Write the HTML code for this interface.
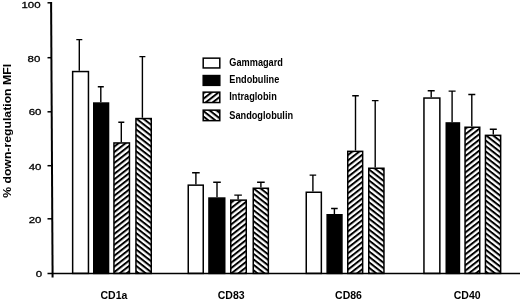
<!DOCTYPE html>
<html><head><meta charset="utf-8"><title>chart</title>
<style>
html,body{margin:0;padding:0;background:#fff;}
body{width:520px;height:299px;overflow:hidden;}
svg{display:block;will-change:transform;}
text{font-family:"Liberation Sans",Arial,Helvetica,sans-serif;font-weight:bold;fill:#000;}
</style></head><body>
<svg width="520" height="299" viewBox="0 0 520 299">
<defs>
<pattern id="hf" patternUnits="userSpaceOnUse" width="4.3" height="4.3" patternTransform="rotate(-38)"><rect x="0" y="0" width="4.3" height="4.3" fill="#fff"/><rect x="0" y="0" width="4.3" height="2.0" fill="#000"/></pattern>
<pattern id="hb" patternUnits="userSpaceOnUse" width="4.3" height="4.3" patternTransform="rotate(38)"><rect x="0" y="0" width="4.3" height="4.3" fill="#fff"/><rect x="0" y="0" width="4.3" height="2.0" fill="#000"/></pattern>
</defs>
<rect width="520" height="299" fill="#fff"/>

<path d="M79.3 70.8V39.3M76.3 39.6H82.3" stroke="#000" stroke-width="1.4" fill="none"/>
<rect x="72.65" y="71.55" width="15.80" height="201.85" fill="#fff" stroke="#000" stroke-width="1.5"/>
<path d="M100.8 102.3V86.5M97.8 86.8H103.8" stroke="#000" stroke-width="1.4" fill="none"/>
<rect x="93.75" y="103.05" width="14.80" height="170.35" fill="#000" stroke="#000" stroke-width="1.5"/>
<path d="M121.3 142.2V122.0M118.3 122.3H124.3" stroke="#000" stroke-width="1.4" fill="none"/>
<rect x="113.95" y="142.95" width="15.50" height="130.45" fill="url(#hf)" stroke="#000" stroke-width="1.5"/>
<path d="M142.4 117.8V56.3M139.4 56.6H145.4" stroke="#000" stroke-width="1.4" fill="none"/>
<rect x="135.95" y="118.55" width="15.30" height="154.85" fill="url(#hb)" stroke="#000" stroke-width="1.5"/>
<path d="M195.9 184.4V172.5M192.1 172.8H199.7" stroke="#000" stroke-width="1.4" fill="none"/>
<rect x="188.25" y="185.15" width="15.00" height="88.25" fill="#fff" stroke="#000" stroke-width="1.5"/>
<path d="M217.0 197.3V182.0M213.2 182.3H220.8" stroke="#000" stroke-width="1.4" fill="none"/>
<rect x="208.95" y="198.05" width="15.80" height="75.35" fill="#000" stroke="#000" stroke-width="1.5"/>
<path d="M238.1 199.4V194.8M234.3 195.1H241.9" stroke="#000" stroke-width="1.4" fill="none"/>
<rect x="230.75" y="200.15" width="15.50" height="73.25" fill="url(#hf)" stroke="#000" stroke-width="1.5"/>
<path d="M260.9 187.5V182.0M257.1 182.3H264.7" stroke="#000" stroke-width="1.4" fill="none"/>
<rect x="253.25" y="188.25" width="15.10" height="85.15" fill="url(#hb)" stroke="#000" stroke-width="1.5"/>
<path d="M312.9 191.5V174.8M309.6 175.1H316.2" stroke="#000" stroke-width="1.4" fill="none"/>
<rect x="306.25" y="192.25" width="15.10" height="81.15" fill="#fff" stroke="#000" stroke-width="1.5"/>
<path d="M334.4 214.0V208.2M331.1 208.5H337.7" stroke="#000" stroke-width="1.4" fill="none"/>
<rect x="327.15" y="214.75" width="14.80" height="58.65" fill="#000" stroke="#000" stroke-width="1.5"/>
<path d="M355.5 150.6V95.5M352.2 95.8H358.8" stroke="#000" stroke-width="1.4" fill="none"/>
<rect x="347.75" y="151.35" width="14.90" height="122.05" fill="url(#hf)" stroke="#000" stroke-width="1.5"/>
<path d="M375.2 167.5V100.3M371.9 100.6H378.5" stroke="#000" stroke-width="1.4" fill="none"/>
<rect x="368.75" y="168.25" width="15.20" height="105.15" fill="url(#hb)" stroke="#000" stroke-width="1.5"/>
<path d="M431.2 97.3V90.5M427.7 90.8H434.7" stroke="#000" stroke-width="1.4" fill="none"/>
<rect x="423.95" y="98.05" width="15.90" height="175.35" fill="#fff" stroke="#000" stroke-width="1.5"/>
<path d="M452.1 122.2V90.8M448.6 91.1H455.6" stroke="#000" stroke-width="1.4" fill="none"/>
<rect x="446.25" y="122.95" width="13.20" height="150.45" fill="#000" stroke="#000" stroke-width="1.5"/>
<path d="M471.8 126.5V94.2M468.3 94.5H475.3" stroke="#000" stroke-width="1.4" fill="none"/>
<rect x="465.05" y="127.25" width="14.70" height="146.15" fill="url(#hf)" stroke="#000" stroke-width="1.5"/>
<path d="M493.3 134.6V128.9M489.8 129.2H496.8" stroke="#000" stroke-width="1.4" fill="none"/>
<rect x="485.45" y="135.35" width="15.20" height="138.05" fill="url(#hb)" stroke="#000" stroke-width="1.5"/>
<path d="M51.1 2.1L52.6 277.6" stroke="#000" stroke-width="2" fill="none"/>
<path d="M47.5 273.4H520" stroke="#000" stroke-width="1.5" fill="none"/>
<path d="M47.5 218.8H52" stroke="#000" stroke-width="1.5" fill="none"/>
<path d="M47.5 165.7H52" stroke="#000" stroke-width="1.5" fill="none"/>
<path d="M47.5 111.8H52" stroke="#000" stroke-width="1.5" fill="none"/>
<path d="M47.5 57.7H52" stroke="#000" stroke-width="1.5" fill="none"/>
<path d="M47.5 2.8H52" stroke="#000" stroke-width="1.5" fill="none"/>
<text transform="translate(42.1 277.3) scale(1.17 1)" font-size="9.8" text-anchor="end" style="font-weight:normal" stroke="#000" stroke-width="0.3">0</text>
<text transform="translate(41.5 223.3) scale(1.17 1)" font-size="9.8" text-anchor="end" style="font-weight:normal" stroke="#000" stroke-width="0.3">20</text>
<text transform="translate(41.5 170.3) scale(1.17 1)" font-size="9.8" text-anchor="end" style="font-weight:normal" stroke="#000" stroke-width="0.3">40</text>
<text transform="translate(41.5 114.8) scale(1.17 1)" font-size="9.8" text-anchor="end" style="font-weight:normal" stroke="#000" stroke-width="0.3">60</text>
<text transform="translate(40.3 61.7) scale(1.17 1)" font-size="9.8" text-anchor="end" style="font-weight:normal" stroke="#000" stroke-width="0.3">80</text>
<text transform="translate(40.6 7.7) scale(1.17 1)" font-size="9.8" text-anchor="end" style="font-weight:normal" stroke="#000" stroke-width="0.3">100</text>
<text transform="translate(11.2 130.9) rotate(-90) scale(1.225 1)" font-size="10" text-anchor="middle">% down-regulation MFI</text>
<text x="113.9" y="298.5" font-size="10.5" text-anchor="middle">CD1a</text>
<text x="231.2" y="298.5" font-size="10.5" text-anchor="middle">CD83</text>
<text x="348.5" y="298.5" font-size="10.5" text-anchor="middle">CD86</text>
<text x="467.2" y="298.5" font-size="10.5" text-anchor="middle">CD40</text>
<rect x="203.2" y="58.15" width="16.6" height="9.80" fill="#fff" stroke="#000" stroke-width="1.5"/>
<text transform="translate(229.3 66.3) scale(0.92 1)" font-size="10">Gammagard</text>
<rect x="203.2" y="75.55" width="16.6" height="9.80" fill="#000" stroke="#000" stroke-width="1.5"/>
<text transform="translate(229.3 83.4) scale(0.92 1)" font-size="10">Endobuline</text>
<rect x="203.2" y="92.15" width="16.6" height="10.40" fill="url(#hf)" stroke="#000" stroke-width="1.5"/>
<text transform="translate(229.3 99.7) scale(0.92 1)" font-size="10">Intraglobin</text>
<rect x="203.2" y="110.15" width="16.6" height="10.50" fill="url(#hb)" stroke="#000" stroke-width="1.5"/>
<text transform="translate(229.3 118.8) scale(0.92 1)" font-size="10">Sandoglobulin</text>
</svg></body></html>
